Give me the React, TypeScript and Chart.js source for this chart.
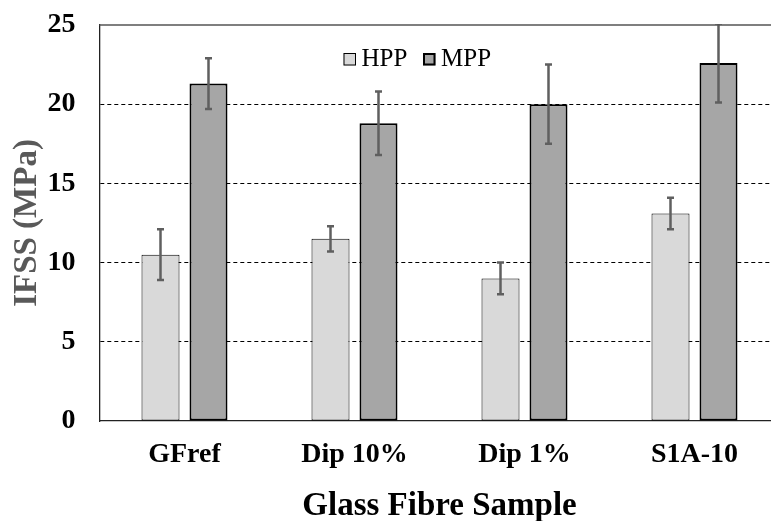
import React, { useEffect, useRef } from "react";
import { Chart, registerables } from "chart.js";

Chart.register(...registerables);

const categories = ["GFref", "Dip 10%", "Dip 1%", "S1A-10"];
const hppValues = [10.5, 11.5, 9.0, 13.1];
const hppErrors = [1.6, 0.8, 1.0, 1.0];
const mppValues = [21.3, 18.8, 20.0, 22.6];
const mppErrors = [1.6, 2.0, 2.5, 2.5];
const yTicks = [0, 5, 10, 15, 20, 25];

const FONT = "'Liberation Serif', 'Times New Roman', serif";

const errorBarPlugin = {
  id: "errorBars",
  afterDatasetsDraw(chart: any) {
    const { ctx, chartArea } = chart;
    const y = chart.scales.y;
    ctx.save();
    ctx.beginPath();
    ctx.rect(chartArea.left, chartArea.top - 1, chartArea.right - chartArea.left, chartArea.bottom - chartArea.top + 1);
    ctx.clip();
    ctx.strokeStyle = "#5f5f5f";
    ctx.lineWidth = 2.5;
    chart.data.datasets.forEach((ds: any, di: number) => {
      const meta = chart.getDatasetMeta(di);
      const errs = ds.errors as number[];
      meta.data.forEach((bar: any, i: number) => {
        const v = ds.data[i];
        const e = errs[i];
        const x = bar.x;
        const yt = y.getPixelForValue(v + e);
        const yb = y.getPixelForValue(v - e);
        ctx.beginPath();
        ctx.moveTo(x, yt);
        ctx.lineTo(x, yb);
        ctx.stroke();
        ctx.beginPath();
        ctx.moveTo(x - 3.5, yt);
        ctx.lineTo(x + 3.5, yt);
        ctx.moveTo(x - 3.5, yb);
        ctx.lineTo(x + 3.5, yb);
        ctx.stroke();
      });
    });
    ctx.restore();
  },
};

const legendPlugin = {
  id: "innerLegend",
  afterDraw(chart: any) {
    const { ctx } = chart;
    ctx.save();
    ctx.font = `25px ${FONT}`;
    ctx.textBaseline = "alphabetic";
    ctx.fillStyle = "#000";
    const items = [
      { x: 343.5, ds: chart.data.datasets[0] },
      { x: 423, ds: chart.data.datasets[1] },
    ];
    items.forEach((it) => {
      const bw = it.ds.borderWidth as number;
      ctx.fillStyle = it.ds.backgroundColor;
      ctx.fillRect(it.x, 53, 12.5, 12.5);
      ctx.strokeStyle = "#000";
      ctx.lineWidth = bw;
      ctx.strokeRect(it.x + bw / 2, 53 + bw / 2, 12.5 - bw, 12.5 - bw);
      ctx.fillStyle = "#000";
      ctx.fillText(it.ds.label, it.x + 18, 65.5);
    });
    ctx.restore();
  },
};

const topLinePlugin = {
  id: "topLine",
  afterDraw(chart: any) {
    const { ctx, chartArea } = chart;
    ctx.save();
    ctx.strokeStyle = "#555";
    ctx.lineWidth = 1.3;
    ctx.beginPath();
    ctx.moveTo(chartArea.left, chartArea.top);
    ctx.lineTo(chartArea.right, chartArea.top);
    ctx.stroke();
    ctx.restore();
  },
};

export default function App() {
  const ref = useRef<HTMLCanvasElement | null>(null);
  useEffect(() => {
    if (!ref.current) return;
    const chart = new Chart(ref.current, {
      type: "bar",
      data: {
        labels: categories,
        datasets: [
          {
            label: "HPP",
            data: hppValues,
            errors: hppErrors,
            backgroundColor: "#d9d9d9",
            borderColor: "#000",
            borderWidth: 1,
            borderSkipped: false,
            categoryPercentage: 0.5647,
            barPercentage: 0.7917,
          } as any,
          {
            label: "MPP",
            data: mppValues,
            errors: mppErrors,
            backgroundColor: "#a6a6a6",
            borderColor: "#000",
            borderWidth: 2,
            borderSkipped: false,
            categoryPercentage: 0.5647,
            barPercentage: 0.7917,
          } as any,
        ],
      },
      options: {
        animation: false,
        responsive: false,
        layout: { padding: { left: 0, right: 20.5, top: 25, bottom: 0 } },
        plugins: {
          legend: { display: false },
          tooltip: { enabled: false },
        },
        scales: {
          x: {
            grid: { display: false, drawTicks: false },
            border: { display: true, color: "#222", width: 1.3 },
            ticks: {
              color: "#000",
              font: { family: FONT, size: 28, weight: "bold" },
              padding: 17,
            },
            title: {
              display: true,
              text: "Glass Fibre Sample",
              color: "#000",
              font: { family: FONT, size: 33, weight: "bold" },
              padding: { top: 0, bottom: -5 },
            },
            afterFit: (s: any) => {
              s.height = 100;
              s.paddingLeft = 0;
              s.paddingRight = 0;
            },
          },
          y: {
            min: 0,
            max: 25,
            afterBuildTicks: (s: any) => {
              s.ticks = yTicks.map((v) => ({ value: v }));
            },
            grid: {
              drawTicks: false,
              color: (c: any) => (c.tick && (c.tick.value === 0 || c.tick.value === 25) ? "rgba(0,0,0,0)" : "#000"),
              lineWidth: 1,
            },
            border: { display: true, color: "#222", width: 1.3, dash: [4, 3] },
            ticks: {
              color: "#000",
              font: { family: FONT, size: 28, weight: "bold" },
              padding: 24,
            },
            title: {
              display: true,
              text: "IFSS (MPa)",
              color: "#595959",
              font: { family: FONT, size: 33, weight: "bold" },
              padding: { top: 8, bottom: 0 },
            },
            afterFit: (s: any) => {
              s.width = 99.5;
              s.paddingTop = 0;
              s.paddingBottom = 0;
            },
          },
        },
      } as any,
      plugins: [errorBarPlugin, legendPlugin, topLinePlugin],
    });
    return () => chart.destroy();
  }, []);
  return (
    <div style={{ position: "absolute", left: 0, top: 0, width: 771, height: 521, overflow: "hidden", background: "#fff" }}>
      <canvas ref={ref} width={800} height={521} style={{ width: 800, height: 521, display: "block" }} />
    </div>
  );
}
